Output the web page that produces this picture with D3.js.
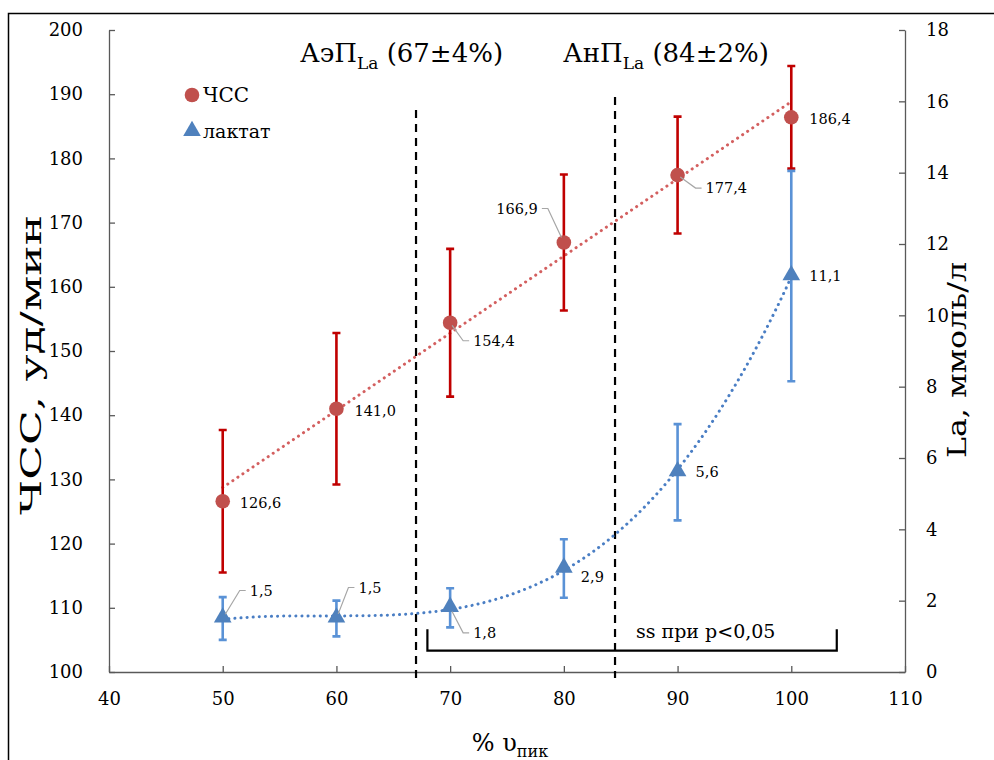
<!DOCTYPE html>
<html>
<head>
<meta charset="utf-8">
<script src="https://cdn.jsdelivr.net/npm/d3@7"></script>
<style>
  html, body { margin: 0; padding: 0; background: #fff; }
  svg { display: block; }
</style>
</head>
<body>
<script>
// Intensity levels, % of peak speed
const speedPct = [50, 60, 70, 80, 90, 100];
// Heart rate (ЧСС), beats/min: mean and SD
const hrMean = [126.6, 141.0, 154.4, 166.9, 177.4, 186.4];
const hrSd = [11.1, 11.8, 11.5, 10.6, 9.1, 8.0];
// Blood lactate (La), mmol/l: mean and SD
const laMean = [1.5, 1.5, 1.8, 2.9, 5.6, 11.1];
const laSd = [0.6, 0.5, 0.55, 0.82, 1.35, 2.95];
// Tick labels
const xTicks = [40, 50, 60, 70, 80, 90, 100, 110];
const hrTicks = [100, 110, 120, 130, 140, 150, 160, 170, 180, 190, 200];
const laTicks = [0, 2, 4, 6, 8, 10, 12, 14, 16, 18];
// Aerobic / anaerobic thresholds (% of peak speed)
const thresholdX = [67, 84.5];
const thresholdNames = ["АэП", "АнП"];
const thresholdNotes = [" (67±4%)", " (84±2%)"];
// Range of significant differences
const sigRange = [68, 104];
const sigText = "ss при p<0,05";

const SERIF = "'DejaVu Serif', serif";
const W = 994, H = 760;
const plot = { left: 109, right: 905, top: 30, bottom: 672 };

const svg = d3.select("body").append("svg").attr("width", W).attr("height", H)
  .style("font-family", SERIF);

// outer frame
svg.append("rect").attr("x", 8.5).attr("y", 13.5).attr("width", 1000).attr("height", 800)
  .attr("fill", "none").attr("stroke", "#000").attr("stroke-width", 1.5);

const x = d3.scaleLinear().domain([40, 110]).range([plot.left, plot.right]);
const yHr = d3.scaleLinear().domain([100, 200]).range([plot.bottom, plot.top]);
const yLa = d3.scaleLinear().domain([0, 18]).range([plot.bottom, plot.top]);

const fmt = v => d3.format(".1f")(v).replace(".", ",");

function addText(parent) {
  return parent.append("text").style("font-family", SERIF).attr("fill", "#000");
}

// axes
function styleAxis(g) {
  g.attr("font-family", null);
  g.selectAll("path, line").attr("stroke", "#595959").attr("stroke-width", 1.3);
  g.selectAll("text").style("font-family", SERIF).attr("font-size", 18).attr("fill", "#000");
}
svg.append("g").attr("transform", `translate(0,${plot.bottom})`)
  .call(d3.axisBottom(x).tickValues(xTicks).tickSizeInner(-6).tickSizeOuter(0).tickPadding(20))
  .call(styleAxis);
svg.append("g").attr("transform", `translate(${plot.left},0)`)
  .call(d3.axisLeft(yHr).tickValues(hrTicks).tickSizeInner(-6).tickSizeOuter(0).tickPadding(26))
  .call(styleAxis);
svg.append("g").attr("transform", `translate(${plot.right},0)`)
  .call(d3.axisRight(yLa).tickValues(laTicks).tickSizeInner(-6).tickSizeOuter(0).tickPadding(21))
  .call(styleAxis);

// axis titles (stretched along their length)
addText(svg).attr("transform", "translate(41,365) rotate(-90)")
  .attr("text-anchor", "middle").attr("font-size", 27)
  .attr("textLength", 300).attr("lengthAdjust", "spacingAndGlyphs").text("ЧСС, уд/мин");
addText(svg).attr("transform", "translate(966,360) rotate(-90)")
  .attr("text-anchor", "middle").attr("font-size", 26)
  .attr("textLength", 196).attr("lengthAdjust", "spacingAndGlyphs").text("La, ммоль/л");
const xt = addText(svg).attr("x", (plot.left + plot.right) / 2 + 3).attr("y", 751)
  .attr("text-anchor", "middle").attr("font-size", 24);
xt.append("tspan").text("% υ");
xt.append("tspan").attr("font-size", 16).attr("dy", 6).text("пик");

// threshold lines
const thrTop = [110, 97];
svg.selectAll(".thr").data(thresholdX).join("line")
  .attr("x1", d => x(d)).attr("x2", d => x(d))
  .attr("y1", (d, i) => thrTop[i]).attr("y2", plot.bottom + 6)
  .attr("stroke", "#000").attr("stroke-width", 2.2).attr("stroke-dasharray", "8,6");

// threshold captions
const captionX = [300, 563];
thresholdX.forEach((t, i) => {
  const tx = addText(svg).attr("x", captionX[i]).attr("y", 62).attr("font-size", 26);
  tx.append("tspan").text(thresholdNames[i]);
  tx.append("tspan").attr("font-size", 17).attr("dy", 7).text("La");
  tx.append("tspan").attr("dy", -7).text(thresholdNotes[i]);
});

// significance bracket
const bY = yLa(0.6), bTop = yLa(1.2);
svg.append("path")
  .attr("d", `M${x(sigRange[0])},${bTop}V${bY}H${x(sigRange[1])}V${bTop}`)
  .attr("fill", "none").attr("stroke", "#000").attr("stroke-width", 2.2);
addText(svg).attr("x", 636).attr("y", 638).attr("font-size", 19).text(sigText);

// least-squares polynomial fit
function polyFit(xs, ys, deg) {
  const n = deg + 1;
  const A = Array.from({ length: n }, () => new Array(n + 1).fill(0));
  xs.forEach((xv, k) => {
    const u = (xv - 75) / 25;
    for (let i = 0; i < n; i++) {
      for (let j = 0; j < n; j++) A[i][j] += Math.pow(u, i + j);
      A[i][n] += ys[k] * Math.pow(u, i);
    }
  });
  for (let c = 0; c < n; c++) {
    let p = c;
    for (let r = c + 1; r < n; r++) if (Math.abs(A[r][c]) > Math.abs(A[p][c])) p = r;
    [A[c], A[p]] = [A[p], A[c]];
    for (let r = 0; r < n; r++) {
      if (r === c) continue;
      const f = A[r][c] / A[c][c];
      for (let j = c; j <= n; j++) A[r][j] -= f * A[c][j];
    }
  }
  const coef = A.map((row, i) => row[n] / row[i]);
  return xv => { const u = (xv - 75) / 25; return coef.reduce((s, c, i) => s + c * Math.pow(u, i), 0); };
}
const hrTrend = polyFit(speedPct, hrMean, 1);
const laTrend = polyFit(speedPct, laMean, 3);
const tx = d3.range(50, 100.01, 0.5);

svg.append("path").datum(tx)
  .attr("d", d3.line().x(d => x(d)).y(d => yHr(hrTrend(d))))
  .attr("fill", "none").attr("stroke", "#D35F5F").attr("stroke-width", 3)
  .attr("stroke-linecap", "round").attr("stroke-dasharray", "0.1,6");
svg.append("path").datum(tx)
  .attr("d", d3.line().x(d => x(d)).y(d => yLa(laTrend(d))))
  .attr("fill", "none").attr("stroke", "#4A7EC4").attr("stroke-width", 3)
  .attr("stroke-linecap", "round").attr("stroke-dasharray", "0.1,6");

// error bars
function errorBars(means, sds, y, color) {
  const g = svg.append("g").attr("stroke", color).attr("stroke-width", 2.6).attr("fill", "none");
  speedPct.forEach((s, i) => {
    const cx = x(s), y1 = y(means[i] + sds[i]), y2 = y(means[i] - sds[i]);
    g.append("path").attr("d", `M${cx},${y1}V${y2}M${cx - 4},${y1}H${cx + 4}M${cx - 4},${y2}H${cx + 4}`);
  });
}
errorBars(hrMean, hrSd, yHr, "#C00000");
errorBars(laMean, laSd, yLa, "#5A92D6");

// markers
svg.selectAll(".hr").data(speedPct).join("circle")
  .attr("cx", d => x(d)).attr("cy", (d, i) => yHr(hrMean[i])).attr("r", 7.3)
  .attr("fill", "#C0504D");
const tri = d3.symbol().type(d3.symbolTriangle).size(135);
svg.selectAll(".la").data(speedPct).join("path")
  .attr("transform", (d, i) => `translate(${x(d)},${yLa(laMean[i]) - 1})`)
  .attr("d", tri).attr("fill", "#4F81BD");

// data labels: offset of label from its point, anchor and leader line
const hrLabelPos = [
  { dx: 17, dy: 2 }, { dx: 18, dy: 2 }, { dx: 23, dy: 18, leader: true },
  { dx: -26, dy: -34, leader: true, end: true }, { dx: 28, dy: 13, leader: true }, { dx: 18, dy: 2 }
];
const laLabelPos = [
  { dx: 27, dy: -28, leader: true }, { dx: 22, dy: -31, leader: true }, { dx: 23, dy: 25, leader: true },
  { dx: 17, dy: 8 }, { dx: 18, dy: 0 }, { dx: 18, dy: 0 }
];
function dataLabels(means, y, pos) {
  speedPct.forEach((s, i) => {
    const px = x(s), py = y(means[i]), p = pos[i];
    const lx = px + p.dx, ly = py + p.dy;
    if (p.leader) {
      const dir = p.end ? 1 : -1;
      const ex = lx + dir * 4, kx = lx + dir * 10;
      const sx = px + (kx - px) * 0.15, sy = py + (ly - py) * 0.15;
      svg.append("path").attr("d", `M${sx},${sy}L${kx},${ly}H${ex}`)
        .attr("fill", "none").attr("stroke", "#A6A6A6").attr("stroke-width", 1.2);
    }
    addText(svg).attr("x", lx).attr("y", ly).attr("dy", "0.35em")
      .attr("text-anchor", p.end ? "end" : "start").attr("font-size", 14.5)
      .text(fmt(means[i]));
  });
}
dataLabels(hrMean, yHr, hrLabelPos);
dataLabels(laMean, yLa, laLabelPos);

// legend
const lg = svg.append("g");
lg.append("circle").attr("cx", 192).attr("cy", 95).attr("r", 7.3).attr("fill", "#C0504D");
addText(lg).attr("x", 203).attr("y", 95).attr("dy", "0.35em").attr("font-size", 20).text("ЧСС");
lg.append("path").attr("transform", "translate(192,131)").attr("d", tri).attr("fill", "#4F81BD");
addText(lg).attr("x", 203).attr("y", 131).attr("dy", "0.35em").attr("font-size", 19).text("лактат");
</script>
</body>
</html>
